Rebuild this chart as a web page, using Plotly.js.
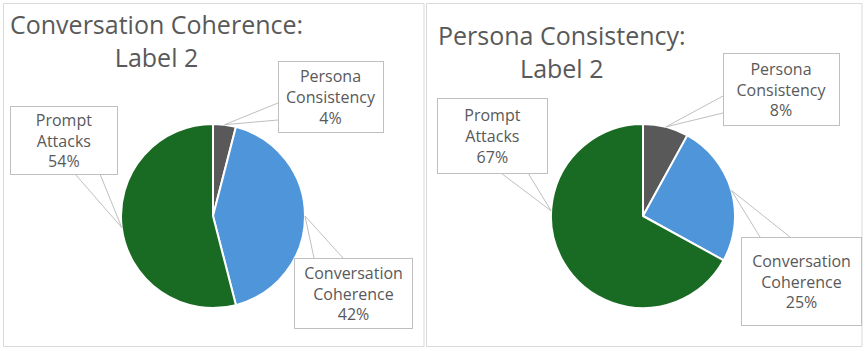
<!DOCTYPE html>
<html>
<head>
<meta charset="utf-8">
<script src="https://cdn.plot.ly/plotly-3.0.1.min.js"></script>
<style>
  html, body { margin: 0; padding: 0; background: #fff; }
  #chart { width: 867px; height: 351px; }
</style>
</head>
<body>
<div id="chart"></div>
<script>
// categories, clockwise from 12 o'clock
const categories = ['Persona Consistency', 'Conversation Coherence', 'Prompt Attacks'];
const labelText = ['Persona<br>Consistency', 'Conversation<br>Coherence', 'Prompt<br>Attacks'];

// percentages
const coherenceValues = [4, 42, 54];
const consistencyValues = [8, 25, 67];

const titles = ['Conversation Coherence:<br>Label 2', 'Persona Consistency:<br>Label 2'];

const sliceColors = ['#595959', '#4E95D9', '#196B24'];
const textColor = '#595959';
const W = 867, H = 351;

// px -> paper helpers
const px = x => x / W;
const py = y => 1 - y / H;

// panel layout (pixels)
const panels = [
  {
    values: coherenceValues,
    cx: 213, cy: 216, r: 92,
    frame: [3.5, 3.5, 424, 346.5],
    title: {x: 156, y: 41},
    // box: left, top, width, height; base: two points where the leader meets the box
    boxes: [
      {x: 278, y: 61, w: 104, h: 70, base: [[278, 103], [278, 120]], tip: 0.5},
      {x: 294, y: 258, w: 117, h: 69, base: [[314, 258], [343, 258]], tip: 0.5},
      {x: 10, y: 106, w: 106, h: 67, base: [[75, 174], [100, 174]], tip: 0.5}
    ]
  },
  {
    values: consistencyValues,
    cx: 643, cy: 216, r: 92,
    frame: [426.5, 3.5, 862, 346.5],
    title: {x: 561.5, y: 51},
    boxes: [
      {x: 723, y: 53, w: 115, h: 71, base: [[723, 96], [723, 113]], tip: 0.5},
      {x: 741, y: 237, w: 119, h: 87, base: [[760, 237], [790, 237]], tip: 0.5},
      {x: 437, y: 98, w: 109, h: 74, base: [[501, 173], [528, 173]], tip: 0.64}
    ]
  }
];

const data = [];
const annotations = [];
const shapes = [];

panels.forEach(p => {
  data.push({
    type: 'pie',
    labels: categories,
    values: p.values,
    sort: false,
    direction: 'clockwise',
    rotation: 0,
    textinfo: 'none',
    hoverinfo: 'label+percent',
    showlegend: false,
    marker: { colors: sliceColors, line: { color: '#ffffff', width: 2 } },
    domain: {
      x: [px(p.cx - p.r), px(p.cx + p.r)],
      y: [py(p.cy + p.r), py(p.cy - p.r)]
    }
  });

  // panel frame
  shapes.push({
    type: 'rect', xref: 'paper', yref: 'paper',
    x0: px(p.frame[0]), y0: py(p.frame[1]), x1: px(p.frame[2]), y1: py(p.frame[3]),
    line: { color: '#d9d9d9', width: 1 }, fillcolor: 'rgba(0,0,0,0)', layer: 'below'
  });

  // title
  annotations.push({
    xref: 'paper', yref: 'paper', x: px(p.title.x), y: py(p.title.y),
    xanchor: 'center', yanchor: 'middle', align: 'center', showarrow: false,
    text: titles[panels.indexOf(p)],
    font: { family: 'Open Sans, sans-serif', size: 25, color: textColor }
  });

  const total = p.values.reduce((a, b) => a + b, 0);
  let cum = 0;
  p.values.forEach((v, i) => {
    const b = p.boxes[i];
    const pct = Math.round(v / total * 100) + '%';
    const ang = (cum + v * b.tip) / total * 2 * Math.PI;
    cum += v;
    const tx = p.cx + p.r * Math.sin(ang);
    const ty = p.cy - p.r * Math.cos(ang);

    // leader wedge
    shapes.push({
      type: 'path', xref: 'paper', yref: 'paper',
      path: `M${px(b.base[0][0])},${py(b.base[0][1])} L${px(tx)},${py(ty)} L${px(b.base[1][0])},${py(b.base[1][1])}`,
      line: { color: '#bfbfbf', width: 1 }, layer: 'above'
    });

    annotations.push({
      xref: 'paper', yref: 'paper', x: px(b.x), y: py(b.y),
      xanchor: 'left', yanchor: 'top', showarrow: false,
      width: b.w, height: b.h, align: 'center', valign: 'middle',
      bgcolor: '#ffffff', bordercolor: '#bfbfbf', borderwidth: 1, borderpad: 0,
      text: labelText[i] + '<br>' + pct,
      font: { family: 'Open Sans, sans-serif', size: 16, color: textColor }
    });
  });
});

const layout = {
  width: W,
  height: H,
  margin: { l: 0, r: 0, t: 0, b: 0, pad: 0 },
  paper_bgcolor: '#ffffff',
  plot_bgcolor: '#ffffff',
  showlegend: false,
  annotations: annotations,
  shapes: shapes
};

Plotly.newPlot('chart', data, layout, { displayModeBar: false, staticPlot: true });
</script>
</body>
</html>
